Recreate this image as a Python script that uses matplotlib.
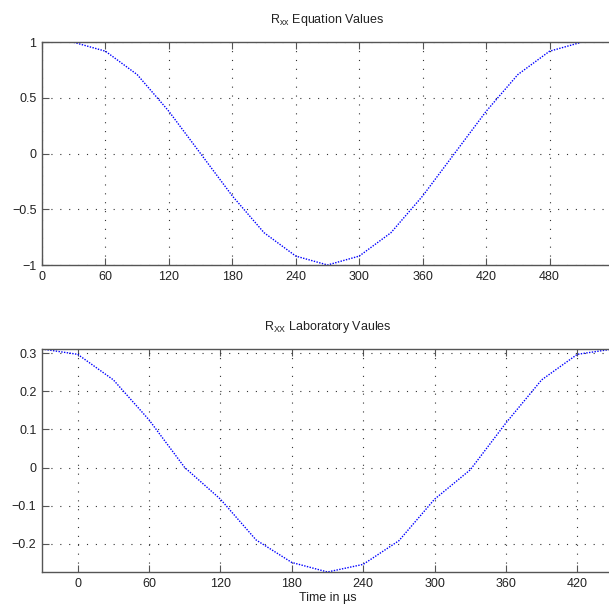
import matplotlib
matplotlib.use('Agg')
from matplotlib import pyplot as plt

# top plot: equation values, sampled every 30 us
eq_t = [30, 60, 90, 120, 150, 180, 210, 240, 270, 300, 330, 360, 390, 420, 450, 480, 510]
eq_r = [1.0, 0.92, 0.71, 0.38, 0.0, -0.38, -0.71, -0.92, -1.0,
        -0.92, -0.71, -0.38, 0.0, 0.38, 0.71, 0.92, 1.0]
eq_xticks = [0, 60, 120, 180, 240, 300, 360, 420, 480]
eq_yticks = [-1, -0.5, 0, 0.5, 1]
eq_ylabels = ['\u22121', '\u22120.5', '0', '0.5', '1']

# bottom plot: laboratory values
lab_t = [-30, 0, 30, 60, 90, 120, 150, 180, 210, 240, 270, 300, 330, 360, 390, 420, 450]
lab_r = [0.311, 0.297, 0.23, 0.125, 0.0, -0.083, -0.19, -0.249, -0.274,
         -0.254, -0.192, -0.083, -0.006, 0.117, 0.23, 0.297, 0.311]
lab_xticks = [0, 60, 120, 180, 240, 300, 360, 420]
lab_yticks = [-0.2, -0.1, 0, 0.1, 0.2, 0.3]
lab_ylabels = ['\u22120.2', '\u22120.1', '0', '0.1', '0.2', '0.3']

plt.rcParams['font.family'] = ['Liberation Sans', 'DejaVu Sans']
plt.rcParams['mathtext.fontset'] = 'custom'
plt.rcParams['mathtext.rm'] = 'Liberation Sans'

W, H = 609, 610
fig = plt.figure(figsize=(W/100, H/100), dpi=100)
txt = '#222222'
spine = '#555555'

def setup(ax, xt, yt, yl, title):
    ax.set_xticks(xt)
    ax.set_xticklabels([str(v) for v in xt])
    ax.set_yticks(yt)
    ax.set_yticklabels(yl)
    ax.tick_params(direction='in', length=5, width=0.8, colors=spine,
                   labelcolor=txt, labelsize=9, top=True, pad=4)
    for s in ax.spines.values():
        s.set_color(spine)
        s.set_linewidth(1.0)
    ax.grid(True, color='#333333', linestyle=(0, (1, 7)), linewidth=0.8)
    ax.set_title(title, fontsize=9, color=txt, pad=14)

ax1 = fig.add_axes([42/W, 1-265/H, 571/W, (265-42.3)/H])
ax1.plot(eq_t, eq_r, color='blue', linestyle=(0, (1, 1)), linewidth=1.0)
ax1.set_xlim(0, 540)
ax1.set_ylim(-1, 1)
setup(ax1, eq_xticks, eq_yticks, eq_ylabels, r'$\mathregular{R_{xx}}$ Equation Values')

ax2 = fig.add_axes([42/W, 1-572/H, 571/W, (572-349)/H])
ax2.plot(lab_t, lab_r, color='blue', linestyle=(0, (1, 1)), linewidth=1.0)
ax2.set_xlim(-30, 450)
ax2.set_ylim(min(lab_r), max(lab_r))
setup(ax2, lab_xticks, lab_yticks, lab_ylabels, r'$\mathregular{R_{XX}}$ Laboratory Vaules')
ax2.set_xlabel('Time in \u00b5s', fontsize=9, color=txt, labelpad=2)

fig.savefig('out.png', dpi=100)
